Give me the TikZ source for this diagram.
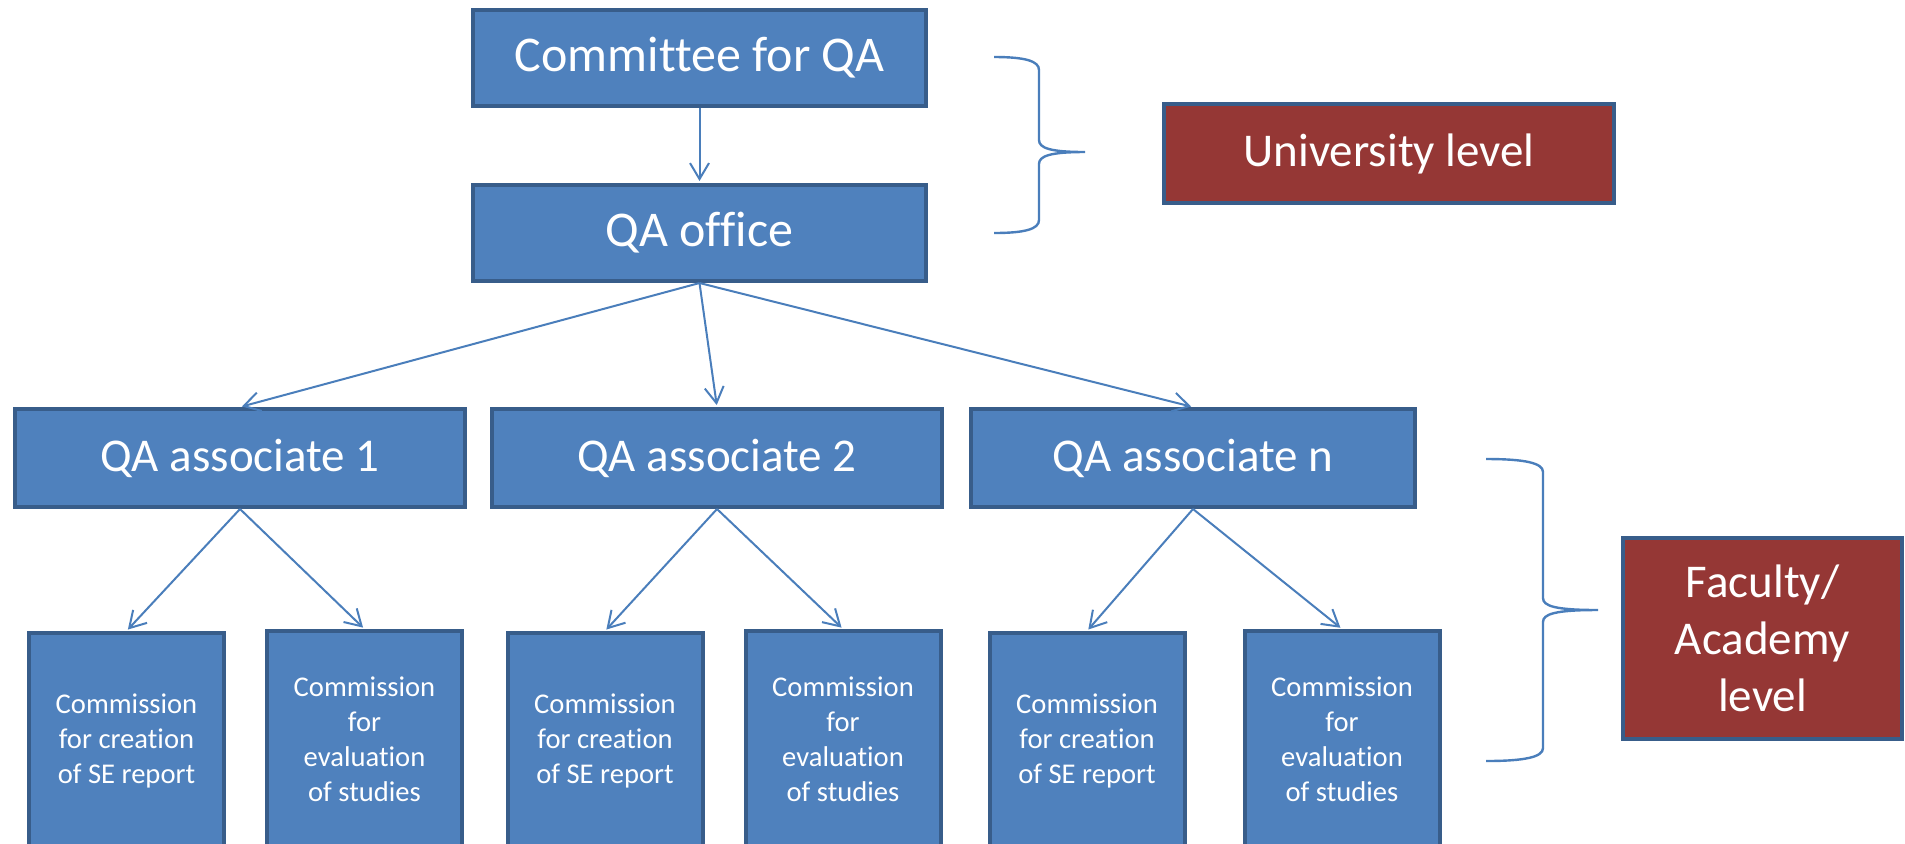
\documentclass[tikz,border=0pt]{standalone}
\usepackage{fontspec}
\setmainfont{Carlito}[Ligatures={NoCommon,NoRare}]
\usetikzlibrary{arrows.meta}
\definecolor{boxfill}{HTML}{4F81BD}
\definecolor{boxline}{HTML}{385D8A}
\definecolor{redfill}{HTML}{953735}
\definecolor{connc}{HTML}{4A7EBB}
\begin{document}
\begin{tikzpicture}[x=0.5pt,y=-0.5pt,
  box/.style={draw=boxline, fill=boxfill, line width=2pt, text=white, inner sep=0pt, align=center},
  topbox/.style={box, minimum width=226.5pt, minimum height=48pt, font=\fontsize{25}{30}\selectfont},
  assocbox/.style={box, minimum width=225pt, minimum height=49pt, font=\fontsize{23.5}{28}\selectfont},
  commbox/.style={box, minimum width=97.5pt, minimum height=108pt, font=\fontsize{14.3}{17.5}\selectfont},
  levelbox/.style={box, fill=redfill, font=\fontsize{23.5}{28.5}\selectfont},
  conn/.style={draw=connc, line width=1pt, -{Straight Barb[length=8pt,width=9.5pt,line width=1pt]}, shorten >=1pt},
  bracel/.style={draw=connc, line width=1.2pt}
]
\useasboundingbox (0,0) rectangle (1905,843);

\node[topbox] (comm) at (699.5,58) {Committee for QA};
\node[topbox] (office) at (699.5,233) {QA office};

\node[assocbox] (a1) at (240,458) {QA associate 1};
\node[assocbox] (a2) at (717,458) {QA associate 2};
\node[assocbox, minimum width=222pt] (an) at (1193,458) {QA associate n};

\node[commbox] (c11) at (126.5,741) {Commission\\for creation\\of SE report};
\node[commbox] (c12) at (364.5,739) {Commission\\for\\evaluation\\of studies};
\node[commbox] (c21) at (605,741) {Commission\\for creation\\of SE report};
\node[commbox] (c22) at (843,739) {Commission\\for\\evaluation\\of studies};
\node[commbox] (cn1) at (1087,741) {Commission\\for creation\\of SE report};
\node[commbox] (cn2) at (1342,739) {Commission\\for\\evaluation\\of studies};

\node[levelbox, minimum width=225pt, minimum height=49.5pt] (uni) at (1389,153.5) {University level};
\node[levelbox, minimum width=139.5pt, minimum height=100.5pt] (fac) at (1762.5,638) {Faculty/\\Academy\\level};

\draw[conn] (comm.south) -- (office.north);
\draw[conn] (office.south) -- (a1.north);
\draw[conn] (office.south) -- (a2.north);
\draw[conn] (office.south) -- (an.north);
\draw[conn] (a1.south) -- (c11.north);
\draw[conn] (a1.south) -- (c12.north);
\draw[conn] (a2.south) -- (c21.north);
\draw[conn] (a2.south) -- (c22.north);
\draw[conn] (an.south) -- (cn1.north);
\draw[conn] (an.south) -- (cn2.north);

% braces
\draw[bracel] (994,57) .. controls (1025,57) and (1039,61) .. (1039,70)
  -- (1039,140) .. controls (1039,148) and (1050,152) .. (1085,152)
  .. controls (1050,152) and (1039,156) .. (1039,164)
  -- (1039,220) .. controls (1039,229) and (1025,233) .. (994,233);
\draw[bracel] (1486,459) .. controls (1525,459) and (1543,463) .. (1543,472)
  -- (1543,598) .. controls (1543,606) and (1555,610) .. (1598,610)
  .. controls (1555,610) and (1543,614) .. (1543,622)
  -- (1543,748) .. controls (1543,757) and (1525,761) .. (1486,761);
\end{tikzpicture}
\end{document}
